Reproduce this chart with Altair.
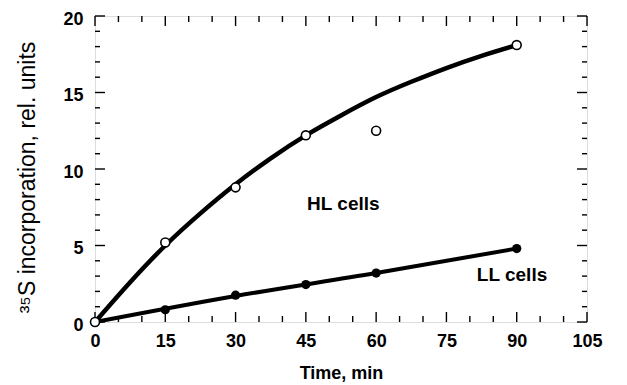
import altair as alt
import pandas as pd

# measured data points
time_pts = [0, 15, 30, 45, 60, 90]
hl_vals = [0, 5.2, 8.8, 12.2, 12.5, 18.1]
ll_vals = [0, 0.8, 1.75, 2.45, 3.2, 4.8]

# fitted curves
hl_curve_t = [0, 7.5, 15, 22.5, 30, 37.5, 45, 52.5, 60, 67.5, 75, 82.5, 90]
hl_curve_v = [0, 2.6, 5.0, 7.1, 9.0, 10.7, 12.2, 13.5, 14.7, 15.7, 16.6, 17.4, 18.1]
ll_curve_t = [0, 30, 60, 90]
ll_curve_v = [0, 1.7, 3.2, 4.8]

# tick values
x_major = [0, 15, 30, 45, 60, 75, 90, 105]
x_minor = [5, 10, 20, 25, 35, 40, 50, 55, 65, 70, 80, 85, 95, 100]
y_major = [0, 5, 10, 15, 20]
y_minor = [1, 2, 3, 4, 6, 7, 8, 9, 11, 12, 13, 14, 16, 17, 18, 19]

# annotations
label_text = ["HL cells", "LL cells"]
label_t = [53, 89]
label_v = [7.7, 3.1]

W, H = 492, 306
FONT = "Liberation Sans"

x_axis = alt.Axis(values=x_major, format="d", ticks=False, domain=False, grid=False,
                  labelFont=FONT, labelFontSize=18, labelFontWeight="bold",
                  labelColor="black", labelPadding=10, labelFlush=False,
                  title="Time, min", titleFont=FONT, titleFontSize=18,
                  titleFontWeight="bold", titleColor="black", titleY=42,
                  titleBaseline="top")
y_axis = alt.Axis(values=y_major, format="d", ticks=False, domain=False, grid=False,
                  labelFont=FONT, labelFontSize=18, labelFontWeight="bold",
                  labelColor="black", labelPadding=12, labelFlush=False, labelOffset=3,
                  title="³⁵S incorporation, rel. units", titleFont=FONT,
                  titleFontSize=23, titleFontWeight="normal", titleColor="black",
                  titleX=-68, titleY=H / 2 + 8, titleAlign="center", titleBaseline="middle",
                  titleAngle=270)

x_enc = alt.X("t:Q", scale=alt.Scale(domain=[0, 105], nice=False, zero=False), axis=x_axis)
y_enc = alt.Y("v:Q", scale=alt.Scale(domain=[0, 20], nice=False, zero=False), axis=y_axis)

pts_hl = pd.DataFrame({"t": time_pts, "v": hl_vals})
pts_ll = pd.DataFrame({"t": time_pts, "v": ll_vals})
cur_hl = pd.DataFrame({"t": hl_curve_t, "v": hl_curve_v})
cur_ll = pd.DataFrame({"t": ll_curve_t, "v": ll_curve_v})
xmaj = pd.DataFrame({"t": x_major})
xmin = pd.DataFrame({"t": x_minor})
ymaj = pd.DataFrame({"v": y_major})
ymin = pd.DataFrame({"v": y_minor})
lab = pd.DataFrame({"t": label_t, "v": label_v, "label": label_text})

layers = []
# ticks (inward, on all four sides)
for df, ln in [(xmaj, 10), (xmin, 6)]:
    layers.append(alt.Chart(df).mark_rule(color="black", strokeWidth=1.4).encode(
        x=x_enc, y=alt.value(H), y2=alt.value(H - ln)))
    layers.append(alt.Chart(df).mark_rule(color="black", strokeWidth=1.4).encode(
        x=x_enc, y=alt.value(0), y2=alt.value(ln)))
for df, ln in [(ymaj, 10), (ymin, 5)]:
    layers.append(alt.Chart(df).mark_rule(color="black", strokeWidth=1.4).encode(
        y=y_enc, x=alt.value(0), x2=alt.value(ln)))
    layers.append(alt.Chart(df).mark_rule(color="black", strokeWidth=1.4).encode(
        y=y_enc, x=alt.value(W), x2=alt.value(W - ln)))

layers.append(alt.Chart(cur_hl).mark_line(color="black", strokeWidth=4.5,
                                          interpolate="natural").encode(x=x_enc, y=y_enc))
layers.append(alt.Chart(cur_ll).mark_line(color="black", strokeWidth=4,
                                          interpolate="monotone").encode(x=x_enc, y=y_enc))
layers.append(alt.Chart(pts_ll).mark_point(shape="circle", filled=True, color="black",
                                           size=85, opacity=1).encode(x=x_enc, y=y_enc))
layers.append(alt.Chart(pts_hl).mark_point(shape="circle", filled=True, fill="white",
                                           stroke="black", strokeWidth=1.6, size=80,
                                           opacity=1).encode(x=x_enc, y=y_enc))
layers.append(alt.Chart(lab).mark_text(font=FONT, fontSize=19, fontWeight="bold",
                                       color="black", align="center",
                                       baseline="middle").encode(x=x_enc, y=y_enc,
                                                                 text="label:N"))

chart = alt.layer(*layers).properties(
    width=W, height=H,
    autosize=alt.AutoSizeParams(type="none"),
    padding={"left": 87, "top": 8, "right": 32, "bottom": 62},
).configure_view(stroke="black", strokeWidth=1.5).configure(background="white")

chart.save("out.html", embed_options={"renderer": "svg", "actions": False})
